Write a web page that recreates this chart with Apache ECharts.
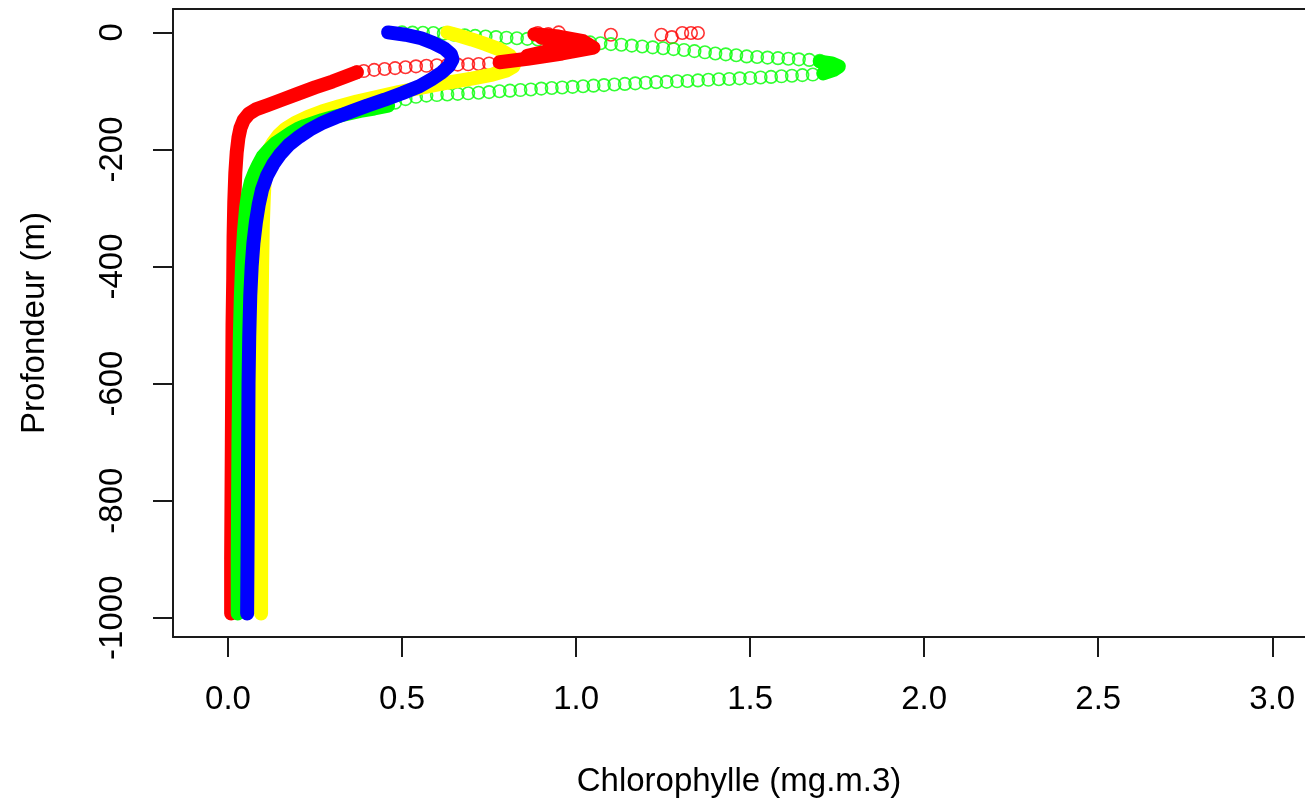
<!DOCTYPE html>
<html>
<head>
<meta charset="utf-8">
<script src="https://cdn.jsdelivr.net/npm/echarts@6/dist/echarts.min.js"></script>
<style>
  html, body { margin: 0; padding: 0; background: #fff; }
  #chart { width: 1305px; height: 808px; }
</style>
</head>
<body>
<div id="chart"></div>
<script>
// [chlorophylle, profondeur]
var xTicks = [0, 0.5, 1, 1.5, 2, 2.5, 3];
var yTicks = [-1000, -800, -600, -400, -200, 0];

// rouge : points isolés en surface + bras de retour
var redRings = [
  [0.89, -1], [0.92, -3], [0.95, 0], [1.10, -4], [1.245, -4], [1.275, -8],
  [1.305, -1], [1.33, -1], [1.35, -1],
  [0.75, -53], [0.72, -54], [0.69, -54.5], [0.66, -55], [0.63, -55.5], [0.60, -56],
  [0.57, -57], [0.54, -58], [0.51, -59.5], [0.48, -61], [0.45, -62.5], [0.42, -64],
  [0.39, -66], [0.37, -68]
];
var redTop = [
  [0.88, -3], [0.95, -7], [1.02, -15], [1.05, -26], [0.96, -36], [0.86, -45],
  [0.78, -51]
];
var redFill = [[0.90, -9], [0.97, -15], [0.99, -24], [0.92, -32], [0.86, -40]];
var redBand = [
  [0.37, -68], [0.34, -75], [0.30, -84], [0.25, -94], [0.20, -105], [0.155, -115],
  [0.115, -124], [0.082, -131], [0.06, -139], [0.045, -150], [0.036, -163],
  [0.03, -180], [0.025, -205], [0.021, -240], [0.018, -290], [0.016, -350],
  [0.015, -420], [0.013, -500], [0.012, -600], [0.011, -700], [0.01, -800],
  [0.009, -900], [0.009, -993]
];

// vert : aller-retour jusqu'au maximum (~1.75) puis profil dense
var greenRings = [
  [0.50, 0], [0.53, -0.3], [0.56, -0.6], [0.59, -1], [0.62, -2], [0.65, -4],
  [0.68, -5], [0.71, -6], [0.74, -7], [0.77, -8], [0.80, -9], [0.83, -10],
  [0.86, -11], [0.89, -12], [0.92, -13], [0.95, -14], [0.98, -15], [1.01, -16],
  [1.04, -17], [1.07, -18.5], [1.10, -20], [1.13, -21], [1.16, -22.5], [1.19, -24],
  [1.22, -25.5], [1.25, -27], [1.28, -28.5], [1.31, -30], [1.34, -32], [1.37, -34],
  [1.40, -36], [1.43, -37.5], [1.46, -39], [1.49, -41], [1.52, -42], [1.55, -43],
  [1.58, -44], [1.61, -45], [1.64, -46], [1.67, -47], [1.70, -48.5],
  [1.68, -72], [1.65, -73], [1.62, -74], [1.59, -75], [1.56, -76], [1.53, -77],
  [1.50, -78], [1.47, -78.5], [1.44, -79.5], [1.41, -80], [1.38, -81], [1.35, -82],
  [1.32, -83], [1.29, -83.5], [1.26, -84.5], [1.23, -85], [1.20, -86], [1.17, -87],
  [1.14, -88], [1.11, -89], [1.08, -90], [1.05, -91], [1.02, -92], [0.99, -93],
  [0.96, -94], [0.93, -95], [0.90, -96], [0.87, -97.5], [0.84, -98.5], [0.81, -99.5],
  [0.78, -100.5], [0.75, -102], [0.72, -103], [0.69, -104], [0.66, -105], [0.63, -106],
  [0.60, -107], [0.57, -108], [0.54, -110], [0.51, -114], [0.48, -120]
];
var greenTip = [[1.70, -50], [1.735, -53], [1.755, -58], [1.74, -64], [1.71, -70]];
var greenBand = [
  [0.46, -125], [0.42, -130], [0.38, -134], [0.335, -140], [0.30, -145], [0.27, -150],
  [0.245, -155], [0.22, -160], [0.20, -165], [0.18, -172], [0.16, -180], [0.135, -190],
  [0.118, -200], [0.10, -212], [0.088, -225], [0.076, -240], [0.066, -255],
  [0.058, -275], [0.052, -300], [0.046, -340], [0.041, -390], [0.037, -450],
  [0.034, -520], [0.032, -600], [0.03, -700], [0.029, -800], [0.028, -900], [0.028, -993]
];

// jaune
var yellowBand = [
  [0.63, 0], [0.66, -5], [0.70, -12], [0.74, -20], [0.78, -29], [0.81, -40],
  [0.825, -50], [0.82, -58], [0.80, -65], [0.76, -72], [0.70, -79], [0.63, -86],
  [0.56, -94], [0.49, -102], [0.43, -110], [0.37, -118], [0.32, -126], [0.27, -135],
  [0.23, -144], [0.195, -154], [0.165, -165], [0.145, -176], [0.13, -188],
  [0.118, -200], [0.11, -220], [0.106, -245], [0.103, -280], [0.1, -330],
  [0.098, -400], [0.096, -500], [0.095, -600], [0.095, -800], [0.095, -993]
];

// bleu
var blueBand = [
  [0.46, 0], [0.51, -4], [0.555, -10], [0.59, -18], [0.62, -27], [0.64, -37],
  [0.645, -46], [0.635, -57], [0.615, -68], [0.585, -80], [0.55, -92], [0.50, -104],
  [0.45, -115], [0.40, -125], [0.355, -135], [0.31, -145], [0.27, -155], [0.235, -166],
  [0.205, -178], [0.175, -192], [0.15, -208], [0.13, -225], [0.112, -245],
  [0.098, -268], [0.088, -295], [0.08, -325], [0.073, -360], [0.068, -400],
  [0.064, -450], [0.061, -520], [0.059, -600], [0.058, -700], [0.057, -800],
  [0.056, -900], [0.055, -993]
];

(function() {
  var myChart = echarts.init(document.getElementById("chart"), null, { renderer: "canvas" });
  var font = "Liberation Sans, Arial, sans-serif";
  var ink = "#1a1a1a";

  function band(data, color) {
    return {
      type: "line",
      data: data,
      symbol: "none",
      silent: true,
      lineStyle: { color: color, width: 14, cap: "round", join: "round" }
    };
  }
  function rings(data, color) {
    return {
      type: "scatter",
      data: data,
      symbol: "circle",
      symbolSize: 12.5,
      silent: true,
      itemStyle: { color: "rgba(0,0,0,0)", borderColor: color, borderWidth: 1.6 }
    };
  }

  var option = {
    animation: false,
    backgroundColor: "#fff",
    grid: {
      left: 173,
      right: 0,
      top: 9,
      bottom: 171
    },
    xAxis: [
      {
        type: "value",
        min: -0.158,
        max: 3.094,
        name: "Chlorophylle (mg.m.3)",
        nameLocation: "middle",
        nameGap: 128,
        nameTextStyle: { fontFamily: font, fontSize: 33, color: "#000" },
        axisLine: { show: true, onZero: false, lineStyle: { color: ink, width: 2 } },
        splitLine: { show: false },
        axisTick: {
          customValues: xTicks,
          length: 20,
          lineStyle: { color: ink, width: 2 }
        },
        axisLabel: {
          customValues: xTicks,
          margin: 46,
          fontFamily: font,
          fontSize: 33,
          color: "#000",
          formatter: function(v) { return v.toFixed(1); }
        }
      },
      {
        // bord supérieur du cadre
        type: "value",
        position: "top",
        min: -0.158,
        max: 3.094,
        axisLine: { show: true, onZero: false, lineStyle: { color: ink, width: 2 } },
        axisTick: { show: false },
        axisLabel: { show: false },
        splitLine: { show: false }
      }
    ],
    yAxis: {
      type: "value",
      min: -1033,
      max: 40,
      name: "Profondeur (m)",
      nameLocation: "middle",
      nameGap: 122,
      nameTextStyle: { fontFamily: font, fontSize: 33, color: "#000" },
      axisLine: { show: true, onZero: false, lineStyle: { color: ink, width: 2 } },
      splitLine: { show: false },
      axisTick: {
        customValues: yTicks,
        length: 20,
        lineStyle: { color: ink, width: 2 }
      },
      axisLabel: {
        customValues: yTicks,
        rotate: 90,
        margin: 44,
        fontFamily: font,
        fontSize: 33,
        color: "#000",
        formatter: function(v) { return String(v); }
      }
    },
    series: [
      band(yellowBand, "#ffff00"),
      band(redTop, "#ff0000"),
      band(redFill, "#ff0000"),
      band(redBand, "#ff0000"),
      rings(redRings, "#ff0000"),
      rings(greenRings, "#00ff00"),
      band(greenTip, "#00ff00"),
      band(greenBand, "#00ff00"),
      band(blueBand, "#0000ff")
    ]
  };
  myChart.setOption(option);
})();
</script>
</body>
</html>
